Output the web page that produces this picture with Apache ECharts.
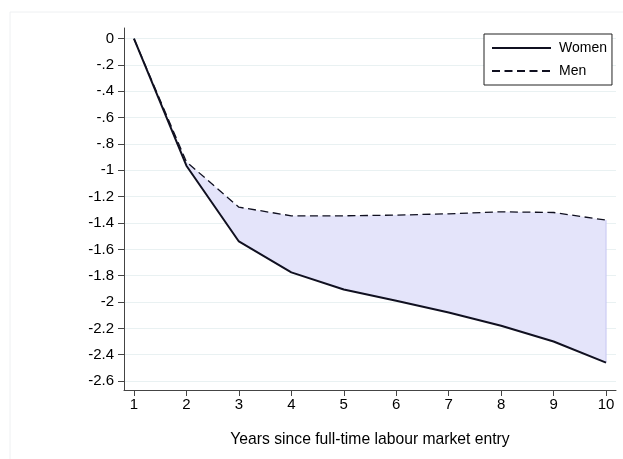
<!DOCTYPE html>
<html>
<head>
<meta charset="utf-8">
<script src="https://cdn.jsdelivr.net/npm/echarts@6/dist/echarts.min.js"></script>
<style>html,body{margin:0;padding:0;background:#fff;}#c{width:623px;height:459px;}</style>
</head>
<body>
<div id="c"></div>
<script>
var years = [1, 2, 3, 4, 5, 6, 7, 8, 9, 10];
var women = [0, -0.965, -1.54, -1.775, -1.905, -1.99, -2.08, -2.18, -2.30, -2.46];
var men = [0, -0.935, -1.28, -1.345, -1.345, -1.34, -1.33, -1.315, -1.32, -1.378];
var xTicks = [1, 2, 3, 4, 5, 6, 7, 8, 9, 10];
var yTicks = [0, -0.2, -0.4, -0.6, -0.8, -1, -1.2, -1.4, -1.6, -1.8, -2, -2.2, -2.4, -2.6];

var FONT = 'Liberation Sans, Arial, Helvetica, sans-serif';
function pair(xs, ys) { return xs.map(function (x, i) { return [x, ys[i]]; }); }
var bandRows = years.map(function (x, i) { return [x, women[i], men[i]]; });
function fmtY(v) {
  var n = Number(Number(v).toFixed(1));
  if (n === 0) return '0';
  var s = String(n);
  return s.replace(/^(-?)0\./, '$1.');
}

var chart = echarts.init(document.getElementById('c'), null, { renderer: 'canvas' });
chart.setOption({
  animation: false,
  backgroundColor: '#ffffff',
  graphic: [{
    type: 'rect', shape: { x: 10, y: 12, width: 640, height: 470 },
    style: { fill: 'none', stroke: '#eef0f2', lineWidth: 1 }, silent: true, z: -1
  }],
  grid: { left: 124, right: 7, top: 28, bottom: 69 },
  legend: {
    data: ['Women', 'Men'],
    orient: 'vertical',
    left: 484, top: 34,
    itemWidth: 59, itemHeight: 14, itemGap: 9,
    padding: [7, 5, 7, 7],
    borderColor: '#222', borderWidth: 1,
    backgroundColor: '#fff',
    itemStyle: { opacity: 0 },
    textStyle: { fontFamily: FONT, fontSize: 14, color: '#000', padding: [0, 0, 0, 3] }
  },
  xAxis: {
    type: 'value', min: 0.81, max: 10.19,
    axisLine: { show: true, onZero: false, lineStyle: { color: '#444', width: 1 } },
    axisTick: { show: true, length: 6, lineStyle: { color: '#444' }, customValues: xTicks },
    axisLabel: { fontFamily: FONT, fontSize: 15, color: '#000', margin: 7, customValues: xTicks },
    splitLine: { show: false },
    name: 'Years since full-time labour market entry',
    nameLocation: 'middle', nameGap: 42,
    nameTextStyle: { fontFamily: FONT, fontSize: 15.7, color: '#000' }
  },
  yAxis: {
    type: 'value', min: -2.668, max: 0.081,
    axisLine: { show: true, onZero: false, lineStyle: { color: '#444', width: 1 } },
    axisTick: { show: true, length: 6, lineStyle: { color: '#444' }, customValues: yTicks },
    axisLabel: { fontFamily: FONT, fontSize: 15, color: '#000', margin: 10, formatter: fmtY, customValues: yTicks },
    splitLine: { show: true, lineStyle: { color: '#e9f1f2', width: 1 } }
  },
  series: [
    {
      name: 'band', type: 'custom', silent: true, z: 1,
      data: bandRows,
      encode: { x: 0, y: [1, 2] },
      renderItem: function (params, api) {
        if (params.dataIndex !== 0) return null;
        var n = bandRows.length;
        var upper = [], lower = [];
        for (var i = 0; i < n; i++) {
          upper.push(api.coord([bandRows[i][0], bandRows[i][2]]));
          lower.push(api.coord([bandRows[i][0], bandRows[i][1]]));
        }
        var last = n - 1;
        var lowLast = lower[last];
        var pts = upper.concat(lower.slice().reverse());
        return {
          type: 'group',
          children: [
            { type: 'polygon', shape: { points: pts }, style: { fill: '#e4e4fa', stroke: null } },
            {
              type: 'line',
              shape: { x1: upper[last][0], y1: upper[last][1], x2: lowLast[0], y2: lowLast[1] },
              style: { stroke: '#c6c6f2', lineWidth: 1 }
            }
          ]
        };
      }
    },
    {
      name: 'Women', type: 'line', data: pair(years, women), symbol: 'none',
      lineStyle: { color: '#101020', width: 2, type: 'solid' }, itemStyle: { color: '#101020' }, z: 3
    },
    {
      name: 'Men', type: 'line', data: pair(years, men), symbol: 'none',
      lineStyle: { color: '#101020', width: 1.3, type: [8, 4.5] }, itemStyle: { color: '#101020' }, z: 3
    }
  ]
});
</script>
</body>
</html>
